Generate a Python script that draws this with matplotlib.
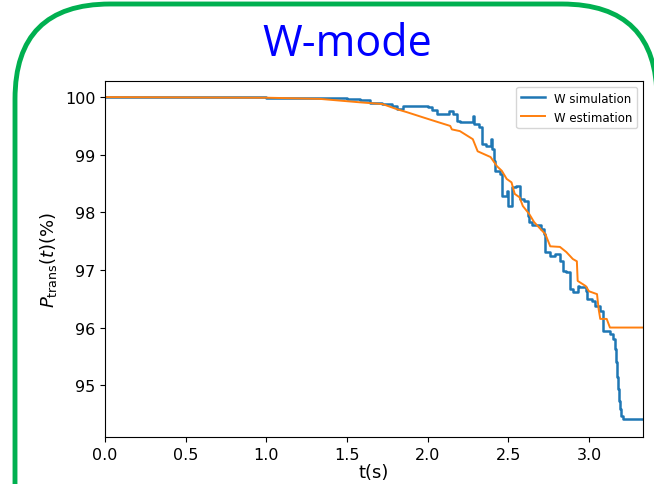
import matplotlib
matplotlib.use('Agg')
import matplotlib.pyplot as plt
from matplotlib.patches import FancyBboxPatch

# W simulation trace
t_sim = [0.0, 0.5, 1.0, 1.33, 1.5, 1.58, 1.64, 1.72, 1.78, 1.81, 1.85, 1.91, 1.97,
         2.0, 2.03, 2.06, 2.10, 2.13, 2.16, 2.18, 2.20, 2.26, 2.28, 2.29, 2.32, 2.34,
         2.36, 2.39, 2.40, 2.41, 2.42, 2.45, 2.46, 2.49, 2.50, 2.52, 2.55, 2.57, 2.60,
         2.62, 2.63, 2.65, 2.70, 2.72, 2.73, 2.76, 2.79, 2.82, 2.84, 2.86, 2.88, 2.90,
         2.93, 2.94, 2.98, 2.99, 3.02, 3.04, 3.07, 3.09, 3.13, 3.15, 3.16, 3.17, 3.175,
         3.18, 3.185, 3.19, 3.2, 3.21, 3.34]
p_sim = [100.0, 100.0, 99.99, 99.98, 99.96, 99.95, 99.90, 99.88, 99.85, 99.79, 99.84,
         99.85, 99.84, 99.83, 99.77, 99.70, 99.70, 99.76, 99.70, 99.58, 99.57, 99.57,
         99.67, 99.53, 99.48, 99.18, 99.15, 99.27, 99.10, 98.89, 98.72, 98.66, 98.28,
         98.37, 98.11, 98.44, 98.46, 98.23, 98.20, 97.93, 97.83, 97.78, 97.71, 97.62,
         97.31, 97.24, 97.27, 97.15, 96.98, 96.96, 96.67, 96.61, 96.72, 96.70, 96.63,
         96.49, 96.46, 96.37, 96.28, 95.94, 95.89, 95.80, 95.62, 95.40, 95.15, 94.93,
         94.72, 94.58, 94.46, 94.41, 94.41]

# W estimation
t_est = [0.0, 1.0, 1.33, 1.58, 1.72, 1.81, 1.87, 1.97, 2.06, 2.14, 2.15, 2.20, 2.28,
         2.31, 2.39, 2.43, 2.46, 2.49, 2.52, 2.54, 2.57, 2.59, 2.63, 2.66, 2.70, 2.73,
         2.76, 2.82, 2.86, 2.90, 2.925, 2.93, 2.98, 3.00, 3.05, 3.06, 3.07, 3.11, 3.13,
         3.34]
p_est = [100.0, 99.99, 99.97, 99.91, 99.88, 99.79, 99.74, 99.65, 99.57, 99.50, 99.44,
         99.41, 99.27, 99.06, 98.96, 98.80, 98.72, 98.58, 98.52, 98.32, 98.26, 98.11,
         97.97, 97.83, 97.71, 97.62, 97.41, 97.40, 97.31, 97.19, 97.15, 96.81, 96.72,
         96.63, 96.58, 96.32, 96.15, 96.15, 96.00, 96.00]

fig = plt.figure(figsize=(6.54, 4.85), dpi=100)

# green rounded frame, drawn in pixel units
bg = fig.add_axes([0, 0, 1, 1])
bg.set_xlim(0, 654)
bg.set_ylim(485, 0)
bg.axis('off')
frame = FancyBboxPatch((15, 5), 642, 580, boxstyle='round,pad=0,rounding_size=95',
                       facecolor='white', edgecolor='#00b050', lw=3.5)
bg.add_patch(frame)
bg.text(347, 45, 'W-mode', color='#0000ff', fontsize=31, family='Open Sans',
        ha='center', va='center')

ax = fig.add_axes([105 / 654, 1 - 438 / 485, 538 / 654, 356 / 485])
ax.plot(t_sim, p_sim, color='#1f77b4', lw=1.8, drawstyle='steps-post', label='W simulation')
ax.plot(t_est, p_est, color='#ff7f0e', lw=1.4, label='W estimation')
ax.set_xlim(0, 3.335)
ax.set_ylim(94.1, 100.28)
ax.set_xticks([0.0, 0.5, 1.0, 1.5, 2.0, 2.5, 3.0])
ax.set_yticks([95, 96, 97, 98, 99, 100])
ax.tick_params(labelsize=11.5)
ax.set_xlabel('t(s)', fontsize=13, labelpad=1)
ax.set_ylabel(r'$P_{\rm trans}(t)$(%)', fontsize=13)
ax.legend(loc='upper right', fontsize=8.5)

fig.savefig('out.png', dpi=100)
